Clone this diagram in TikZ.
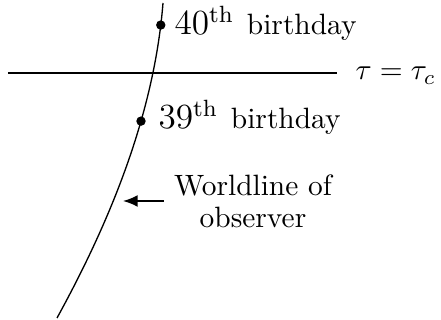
\documentclass[tikz,border=0pt]{standalone}
\usetikzlibrary{arrows.meta}
\begin{document}
\begin{tikzpicture}[x=0.34pt,y=-0.34pt,
  dot/.style={circle,fill,inner sep=0pt,minimum size=3.2pt},
  lbl/.style={inner sep=0pt,anchor=base west},
  wl/.style={line width=0.45pt},
  axis/.style={line width=0.6pt},
  pointer/.style={-{Latex[length=5pt,width=4pt]},line width=0.5pt}]
\useasboundingbox (0,0) rectangle (441,320);
\coordinate (top) at (163,3);
\coordinate (bot) at (57,318);
\draw[wl] (top) .. controls (154.6,108) and (114.75,213) .. (bot)
  node[pos=0.07,dot] (d40) {}
  node[pos=0.375,dot] (d39) {};
\coordinate (hl) at (8,73);
\coordinate (hr) at (337,73);
\draw[axis] (hl) -- (hr);
\node[lbl] (tau) at (355,80) {$\tau=\tau_c$};
\node[lbl] (l40) at (174,35) {{\large $40^{\mathrm{th}}$}\hspace{1pt} birthday};
\node[lbl] (l39) at (158,129) {{\large $39^{\mathrm{th}}$}\hspace{1pt} birthday};
\node[align=center,font=\fontsize{10}{11}\selectfont] (obs) at (253,201) {Worldline of\\observer};
\coordinate (tip) at (123,201);
\draw[pointer] (obs.west) -- (obs.west -| tip);
\end{tikzpicture}
\end{document}
